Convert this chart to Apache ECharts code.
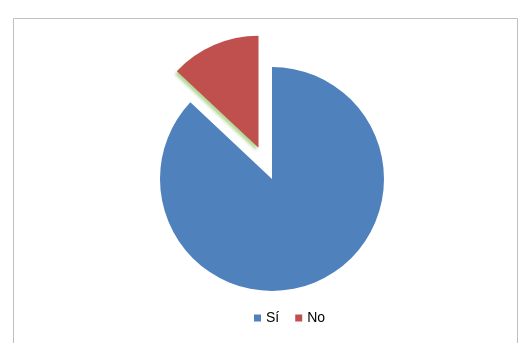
<!DOCTYPE html>
<html><head><meta charset="utf-8">
<script src="https://cdn.jsdelivr.net/npm/echarts@6/dist/echarts.min.js"></script>
<style>html,body{margin:0;padding:0;background:#fff}#c{width:530px;height:343px}</style>
</head><body><div id="c"></div>
<script>
const categories = ['Sí', 'No'];
const values = [87, 13];
const colors = ['#4F81BD', '#C0504D'];

const chart = echarts.init(document.getElementById('c'), null, {renderer: 'canvas'});
chart.setOption({
  animation: false,
  backgroundColor: '#fff',
  graphic: [{
    type: 'rect', silent: true,
    shape: {x: 13.5, y: 18.5, width: 504, height: 340},
    style: {fill: 'none', stroke: '#BFBFBF', lineWidth: 1}
  }],
  legend: {
    data: categories,
    left: 254, top: 311, padding: 0,
    icon: 'rect', itemWidth: 7, itemHeight: 7, itemGap: 16,
    textStyle: {fontFamily: 'Liberation Sans, Arial', fontSize: 14, color: '#000'},
    selectedMode: false
  },
  series: [{
    type: 'pie',
    center: [272, 179],
    radius: 112,
    startAngle: 90,
    clockwise: true,
    selectedMode: 'single',
    selectedOffset: 34,
    label: {show: false},
    labelLine: {show: false},
    emphasis: {disabled: true},
    data: categories.map((n, i) => ({
      name: n, value: values[i], selected: i === 1,
      itemStyle: Object.assign({color: colors[i]}, i === 1 ? {shadowColor: 'rgba(150,200,110,0.7)', shadowBlur: 3, shadowOffsetX: -2, shadowOffsetY: 3} : {})
    }))
  }]
});
</script></body></html>
